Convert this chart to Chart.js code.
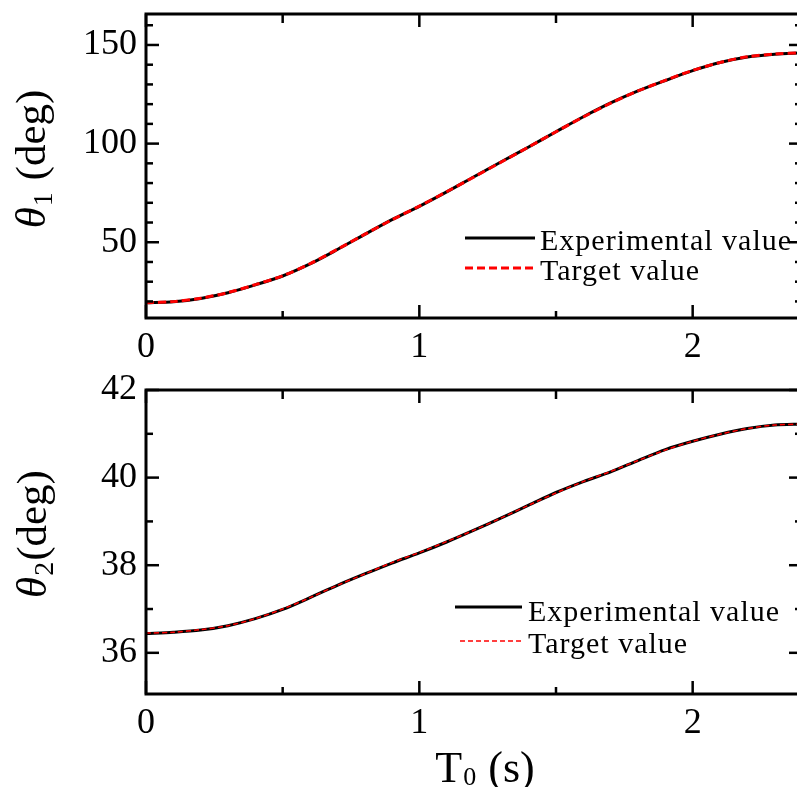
<!DOCTYPE html>
<html>
<head>
<meta charset="utf-8">
<title>Joint angles</title>
<script src="https://cdn.jsdelivr.net/npm/chart.js"></script>
<style>
  html, body { margin: 0; padding: 0; background: #fff; overflow: hidden; }
  canvas { position: absolute; left: 0; }
</style>
</head>
<body>
<canvas id="theta1" width="808" height="372" style="top:0px"></canvas>
<canvas id="theta2" width="808" height="415" style="top:372px"></canvas>
<script>
// time axis (s)
const timeS = [0, 0.1, 0.2, 0.3, 0.4, 0.5, 0.6, 0.7, 0.8, 0.9, 1.0, 1.1, 1.2,
  1.3, 1.4, 1.5, 1.6, 1.7, 1.8, 1.9, 2.0, 2.1, 2.2, 2.3, 2.4];

// theta1 (deg)
const theta1Exp = [19.3, 19.8, 21.5, 24.4, 28.4, 32.9, 39.0, 46.3, 54.0, 61.5, 68.2, 75.5, 83.2,
  90.8, 98.3, 106.0, 113.6, 120.6, 126.7, 132.0, 137.0, 141.1, 143.9, 145.3, 146.0];
const theta1Target = [19.3, 19.9, 21.6, 24.5, 28.5, 33.0, 39.1, 46.4, 54.0, 61.4, 68.3, 75.6, 83.1,
  90.7, 98.3, 106.0, 113.5, 120.5, 126.7, 132.1, 137.1, 141.1, 144.0, 145.4, 146.0];

// theta2 (deg)
const theta2Exp = [36.44, 36.47, 36.52, 36.62, 36.78, 36.99, 37.26, 37.54, 37.80, 38.05, 38.28, 38.53, 38.80,
  39.08, 39.37, 39.66, 39.91, 40.13, 40.39, 40.64, 40.83, 40.99, 41.12, 41.20, 41.22];
const theta2Target = [36.45, 36.47, 36.53, 36.62, 36.78, 37.00, 37.26, 37.54, 37.80, 38.06, 38.29, 38.54, 38.80,
  39.08, 39.37, 39.65, 39.91, 40.14, 40.39, 40.63, 40.83, 40.99, 41.12, 41.20, 41.22];

const seriesNames = ['Experimental value', 'Target value'];
const timeTicks = [0, 1, 2];
const theta1Ticks = [50, 100, 150];
const theta2Ticks = [36, 38, 40, 42];

const FONT = '"Liberation Serif", "Times New Roman", serif';

function points(vals) {
  return timeS.map((t, i) => ({ x: t, y: vals[i] }));
}

// title with a subscript, centred on the current origin
function drawSubTitle(ctx, t, size) {
  const mainFont = (t.italic ? 'italic ' : '') + size + 'px ' + FONT;
  const subFont = Math.round(size * t.subScale) + 'px ' + FONT;
  const restFont = size + 'px ' + FONT;
  ctx.font = mainFont; const w1 = ctx.measureText(t.main).width;
  ctx.font = subFont; const w2 = ctx.measureText(t.sub).width;
  ctx.font = restFont; const w3 = ctx.measureText(t.rest).width;
  let x = -(w1 + w2 + w3) / 2;
  ctx.textAlign = 'left';
  ctx.textBaseline = 'alphabetic';
  ctx.fillStyle = '#000';
  ctx.font = mainFont; ctx.fillText(t.main, x, 0); x += w1;
  ctx.font = subFont; ctx.fillText(t.sub, x + 1, t.subDrop); x += w2 + 2;
  ctx.font = restFont; ctx.fillText(t.rest, x, 0);
}

const framePlugin = {
  id: 'frame',
  afterDraw(chart, args, opts) {
    const { ctx, chartArea: a, scales: { x, y } } = chart;
    ctx.save();
    ctx.strokeStyle = '#000';
    ctx.lineWidth = 3;
    ctx.strokeRect(a.left, a.top, a.right - a.left, a.bottom - a.top);

    ctx.lineWidth = 2.5;
    const seg = (x1, y1, x2, y2) => { ctx.beginPath(); ctx.moveTo(x1, y1); ctx.lineTo(x2, y2); ctx.stroke(); };
    const isMajor = (v, ticks) => ticks.some(t => Math.abs(t.value - v) < 1e-6);

    x.ticks.forEach(t => {
      const px = x.getPixelForValue(t.value);
      seg(px, a.bottom, px, a.bottom - 13);
      seg(px, a.top, px, a.top + 13);
    });
    for (let v = Math.ceil(x.min / opts.xMinor) * opts.xMinor; v <= x.max + 1e-6; v += opts.xMinor) {
      if (isMajor(v, x.ticks)) continue;
      const px = x.getPixelForValue(v);
      seg(px, a.bottom, px, a.bottom - 7);
      seg(px, a.top, px, a.top + 9);
    }
    y.ticks.forEach(t => {
      const py = y.getPixelForValue(t.value);
      seg(a.left, py, a.left + 13, py);
      seg(a.right, py, a.right - 13, py);
    });
    for (let v = Math.ceil(y.min / opts.yMinor) * opts.yMinor; v <= y.max + 1e-6; v += opts.yMinor) {
      if (isMajor(v, y.ticks)) continue;
      const py = y.getPixelForValue(v);
      seg(a.left, py, a.left + 7, py);
      seg(a.right, py, a.right - 7, py);
    }

    // legend inside the plot
    const lg = opts.legend;
    chart.data.datasets.forEach((ds, i) => {
      const ly = lg.lineY[i];
      ctx.strokeStyle = ds.borderColor;
      ctx.lineWidth = ds.borderWidth;
      ctx.setLineDash(ds.borderDash || []);
      seg(lg.x0[i], ly, lg.x1, ly);
      ctx.setLineDash([]);
      ctx.fillStyle = '#000';
      ctx.font = lg.size + 'px ' + FONT;
      ctx.letterSpacing = '1px';
      ctx.textAlign = 'left';
      ctx.textBaseline = 'alphabetic';
      ctx.fillText(ds.label, lg.textX, lg.baseY[i]);
      ctx.letterSpacing = '0px';
    });

    // axis titles
    ctx.save();
    ctx.translate(opts.yTitle.x, opts.yTitle.y);
    ctx.rotate(-Math.PI / 2);
    drawSubTitle(ctx, opts.yTitle, 43);
    ctx.restore();
    if (opts.xTitle) {
      ctx.save();
      ctx.translate(opts.xTitle.x, opts.xTitle.y);
      drawSubTitle(ctx, opts.xTitle, 44);
      ctx.restore();
    }
    ctx.restore();
  }
};

function makeChart(id, exp, target, yMin, yMax, yTicks, cfg) {
  return new Chart(document.getElementById(id), {
    type: 'line',
    data: {
      datasets: [
        {
          label: seriesNames[0],
          data: points(exp),
          borderColor: '#000',
          borderWidth: 3,
          pointRadius: 0,
          tension: 0.3,
          order: 1
        },
        {
          label: seriesNames[1],
          data: points(target),
          borderColor: '#ff0000',
          borderWidth: cfg.redWidth,
          borderDash: cfg.redDash,
          pointRadius: 0,
          tension: 0.3,
          order: 0
        }
      ]
    },
    options: {
      responsive: false,
      animation: false,
      events: [],
      layout: { padding: { left: 0, right: 6, top: cfg.top, bottom: 0 } },
      scales: {
        x: {
          type: 'linear',
          min: 0,
          max: 2.4,
          afterBuildTicks: s => { s.ticks = timeTicks.map(v => ({ value: v })); },
          afterFit: s => { s.height = cfg.xHeight; s.paddingLeft = 0; s.paddingRight = 0; },
          grid: { display: false, drawTicks: false },
          border: { display: false },
          ticks: { padding: 8, color: '#000', font: { family: FONT, size: 36 } }
        },
        y: {
          type: 'linear',
          min: yMin,
          max: yMax,
          afterBuildTicks: s => { s.ticks = yTicks.map(v => ({ value: v })); },
          afterFit: s => { s.width = 146; s.paddingTop = 0; s.paddingBottom = 0; },
          grid: { display: false, drawTicks: false },
          border: { display: false },
          ticks: { padding: 9, color: '#000', font: { family: FONT, size: 36 } }
        }
      },
      plugins: {
        legend: { display: false },
        tooltip: { enabled: false },
        frame: cfg.frame
      }
    },
    plugins: [framePlugin]
  });
}

makeChart('theta1', theta1Exp, theta1Target, 11.6, 165.7, theta1Ticks, {
  top: 14, xHeight: 54, redWidth: 3, redDash: [8, 4],
  frame: {
    xMinor: 0.5, yMinor: 10,
    legend: { x0: [465, 465], x1: 535, lineY: [238, 268], textX: 540, baseY: [250, 280], size: 30 },
    yTitle: { x: 45, y: 160, main: 'θ', sub: '1', rest: ' (deg)', italic: true, subScale: 0.66, subDrop: 7 }
  }
});

makeChart('theta2', theta2Exp, theta2Target, 35.06, 42, theta2Ticks, {
  top: 18, xHeight: 93, redWidth: 1.5, redDash: [5, 3],
  frame: {
    xMinor: 0.5, yMinor: 1,
    legend: { x0: [455, 460], x1: 522, lineY: [235, 269], textX: 528, baseY: [249, 281], size: 30 },
    yTitle: { x: 46, y: 163, main: 'θ', sub: '2', rest: '(deg)', italic: true, subScale: 0.66, subDrop: 7 },
    xTitle: { x: 484, y: 410, main: 'T', sub: '0', rest: ' (s)', italic: false, subScale: 0.6, subDrop: 3 }
  }
});
</script>
</body>
</html>
